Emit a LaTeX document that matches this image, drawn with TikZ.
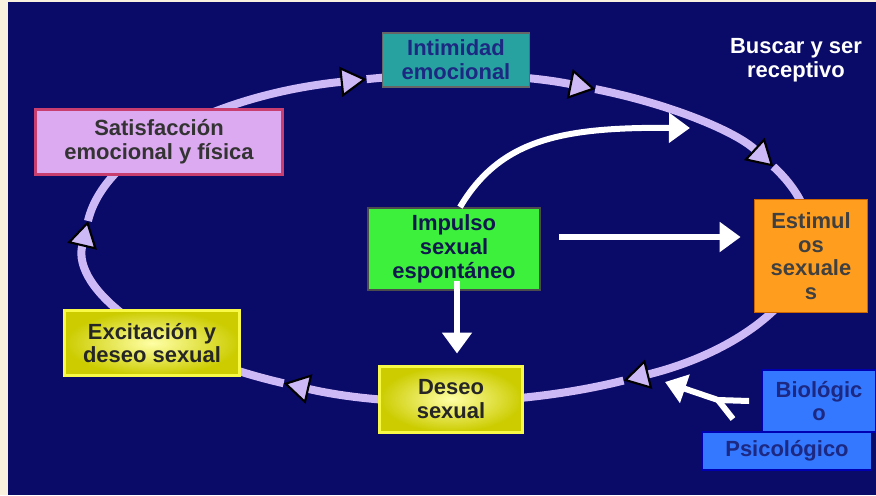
\documentclass[tikz,border=0pt]{standalone}
\usepackage{fontspec}
\setmainfont{Liberation Sans}
\usetikzlibrary{arrows.meta}

\definecolor{fondo}{RGB}{10,10,105}
\definecolor{crema}{RGB}{250,240,222}
\definecolor{lila}{RGB}{205,185,245}
\definecolor{turquesa}{RGB}{40,162,160}
\definecolor{violeta}{RGB}{220,170,240}
\definecolor{rosa}{RGB}{200,62,110}
\definecolor{verde}{RGB}{60,240,60}
\definecolor{naranja}{RGB}{255,158,30}
\definecolor{amarillo}{RGB}{248,248,70}
\definecolor{azul}{RGB}{52,120,255}
\definecolor{tinta}{RGB}{28,40,130}

\tikzset{
    caja/.style={draw, line width=1pt, inner sep=0pt, align=center,
        font=\bfseries\fontsize{12.5}{13.5}\selectfont},
    amarilla/.style={caja, draw=amarillo, line width=0.06cm,
        inner color=yellow!35, outer color=yellow!60!olive, text=black!85},
    anillo/.style={lila, line width=0.16cm},
    punta/.style={-{Triangle[length=0.52cm, width=0.6cm, fill=lila, color=black, line width=1.2pt]}},
    flecha/.style={white, line width=0.12cm, -{Triangle[length=0.42cm, width=0.58cm]}}
}

\begin{document}
\begin{tikzpicture}[x=0.02cm, y=-0.02cm]
    \useasboundingbox (0,0) rectangle (876,495);
    \fill[crema] (0,0) rectangle (876,495);
    \fill[fondo] (8,2) rectangle (876,495);
    \coordinate (centro) at (448,238);
    \foreach \a/\b in {0/61, 61/117, 117/186, 186/257, 257/294, 294/334}
        \draw[anillo, punta] (centro) ++(\a:362 and 163)
            arc[start angle=\a, end angle=\b, x radius=362, y radius=163];
    \draw[anillo] (centro) ++(334:362 and 163)
        arc[start angle=334, end angle=360, x radius=362, y radius=163];

    \path node[caja, fill=turquesa, draw=black!60, text=tinta,
            minimum width=2.94cm, minimum height=1.08cm] (intimidad) at (456,60) {Intimidad\\emocional}
        node[caja, fill=violeta, draw=rosa, line width=0.06cm, text=black!80,
            minimum width=4.96cm, minimum height=1.3cm] (satisfaccion) at (159,142) {Satisfacción\\emocional y física}
        node[caja, fill=verde, draw=black!70, text=tinta!60!black,
            minimum width=3.44cm, minimum height=1.64cm] (impulso) at (454,249) {Impulso\\sexual\\espontáneo}
        node[caja, fill=naranja, draw=orange!80!black, text=black!75,
            minimum width=2.26cm, minimum height=2.26cm] (estimulos) at (811,256) {Estimul\\os\\sexuale\\s}
        node[amarilla, minimum width=3.5cm, minimum height=1.3cm] (excitacion) at (152,343) {Excitación y\\deseo sexual}
        node[amarilla, minimum width=2.86cm, minimum height=1.32cm] (deseo) at (451,399) {Deseo\\sexual}
        node[caja, fill=azul, draw=blue!70!black, text=tinta,
            minimum width=2.28cm, minimum height=1.24cm] (biologico) at (819,401) {Biológic\\o}
        node[caja, fill=azul, draw=blue!70!black, text=tinta,
            minimum width=3.38cm, minimum height=0.76cm] (psicologico) at (787,451) {Psicológico}
        node[align=center, text=white, font=\bfseries\fontsize{12.5}{13.5}\selectfont] (buscar) at (796,60) {Buscar y ser\\receptivo};

    \coordinate (haciabuscar) at (690,128);
    \coordinate (union) at (718,400);
    \coordinate (rama) at (733,419);
    \coordinate (haciaanillo) at (665,382);

    \draw[flecha] ([xshift=0.12cm]impulso.north) .. controls (500,140) and (560,127) .. (haciabuscar);
    \draw[flecha, shorten <=0.36cm, shorten >=0.26cm] ([yshift=0.24cm]impulso.east) -- ([yshift=0.24cm]impulso.east -| estimulos.west);
    \draw[flecha] ([xshift=0.06cm, yshift=0.2cm]impulso.south) -- ([xshift=0.06cm, yshift=0.22cm]impulso.south |- deseo.north);
    \draw[white, line width=0.12cm] ([xshift=-0.24cm]biologico.west) -- (union);
    \draw[white, line width=0.12cm] (rama) -- (union);
    \draw[flecha] (union) -- (haciaanillo);
\end{tikzpicture}
\end{document}
